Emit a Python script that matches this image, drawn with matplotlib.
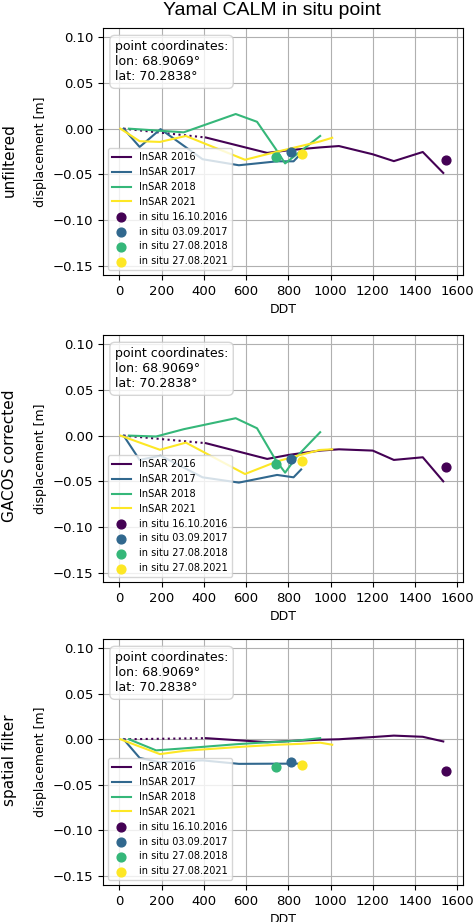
import numpy as np
import matplotlib
matplotlib.use("Agg")
import matplotlib.pyplot as plt

# DDT of the InSAR acquisitions per season
ddt_2016 = [20, 410, 700, 805, 950, 1040, 1200, 1300, 1437, 1534]
ddt_2017 = [20, 96, 195, 394, 566, 747, 825, 861]
ddt_2018 = [45, 174, 305, 551, 652, 740, 785, 840, 951]
ddt_2021 = [5, 96, 192, 315, 595, 750, 860, 950, 1008]

# displacement [m] - unfiltered
unf_2016 = [0, -0.0097, -0.0265, -0.0235, -0.0205, -0.019, -0.028, -0.0355, -0.0255, -0.0484]
unf_2017 = [0, -0.020, -0.0005, -0.0334, -0.040, -0.0357, -0.0357, -0.027]
unf_2018 = [0, -0.002, -0.004, 0.016, 0.0075, -0.022, -0.038, -0.028, -0.008]
unf_2021 = [0, -0.0137, -0.0145, -0.008, -0.034, -0.025, -0.019, -0.014, -0.010]

# GACOS corrected
gac_2016 = [0, -0.0083, -0.0255, -0.021, -0.0164, -0.015, -0.0164, -0.0266, -0.0237, -0.050]
gac_2017 = [0, -0.0266, -0.022, -0.0456, -0.0514, -0.043, -0.0456, -0.037]
gac_2018 = [0, -0.001, 0.007, 0.019, 0.008, -0.0266, -0.0405, -0.023, 0.0037]
gac_2021 = [0, -0.0076, -0.0155, -0.0077, -0.042, -0.028, -0.021, -0.0157, -0.015]

# spatial filter
spf_2016 = [0, 0.0012, -0.0032, -0.002, -0.0005, 0.0, 0.0024, 0.004, 0.0027, -0.0024]
spf_2017 = [0, -0.0205, -0.0255, -0.0232, -0.027, -0.0268, -0.0268, -0.0268]
spf_2018 = [0, -0.0122, -0.010, -0.0055, -0.004, -0.003, -0.0025, -0.0015, 0.0012]
spf_2021 = [0, -0.008, -0.0163, -0.0125, -0.008, -0.006, -0.005, -0.0037, -0.006]

insitu_labels = ["in situ 16.10.2016", "in situ 03.09.2017", "in situ 27.08.2018", "in situ 27.08.2021"]
insitu_ddt = [1547, 814, 742, 864]
insitu_disp = [-0.0345, -0.0254, -0.031, -0.028]

years = ["2016", "2017", "2018", "2021"]
row_names = ["unfiltered", "GACOS corrected", "spatial filter"]

ddts = [ddt_2016, ddt_2017, ddt_2018, ddt_2021]
panels = [
    [unf_2016, unf_2017, unf_2018, unf_2021],
    [gac_2016, gac_2017, gac_2018, gac_2021],
    [spf_2016, spf_2017, spf_2018, spf_2021],
]

colors = plt.cm.viridis(np.linspace(0, 1, 4))

fig = plt.figure(figsize=(4.74, 9.22), dpi=100)

# axes boxes [left, bottom, width, height]
boxes = [
    [0.2173, 0.7017, 0.7595, 0.2679],
    [0.2173, 0.3688, 0.7595, 0.2679],
    [0.2173, 0.0401, 0.7595, 0.2668],
]
row_y = [0.8265, 0.5054, 0.1757]

for p in range(3):
    ax = fig.add_axes(boxes[p])
    for i in range(4):
        x = ddts[i]
        y = panels[p][i]
        if i == 0:
            # gap over winter -> dotted
            ax.plot(x[:2], y[:2], ':', color=colors[i], lw=1.5)
            ax.plot(x[1:], y[1:], color=colors[i], lw=1.5, label="InSAR " + years[i])
        else:
            ax.plot(x, y, color=colors[i], lw=1.5, label="InSAR " + years[i])
    for i in range(4):
        ax.scatter(insitu_ddt[i], insitu_disp[i], s=40, color=colors[i], label=insitu_labels[i], zorder=3)

    ax.set_ylim(-0.16, 0.11)
    ax.set_xlim(-77.5, 1627.5)
    ax.set_yticks([0.10, 0.05, 0.00, -0.05, -0.10, -0.15])
    ax.set_xticks(range(0, 1601, 200))
    ax.tick_params(labelsize=9.5)
    ax.grid(True)
    ax.set_xlabel("DDT", fontsize=9)
    ax.set_ylabel("displacement [m]", fontsize=9)
    ax.legend(loc="lower left", fontsize=7)
    ax.text(0.033, 0.95, "point coordinates:\nlon: 68.9069°\nlat: 70.2838°",
            transform=ax.transAxes, fontsize=9, va="top", ha="left",
            bbox=dict(boxstyle="round,pad=0.4", facecolor="white", edgecolor="0.8", alpha=0.8))

    fig.text(0.019, row_y[p], row_names[p], rotation=90, fontsize=11, ha="center", va="center")

fig.text(0.573, 0.9837, "Yamal CALM in situ point", fontsize=14, family="Liberation Sans",
         ha="center", va="baseline")

fig.savefig("out.png", dpi=100)
